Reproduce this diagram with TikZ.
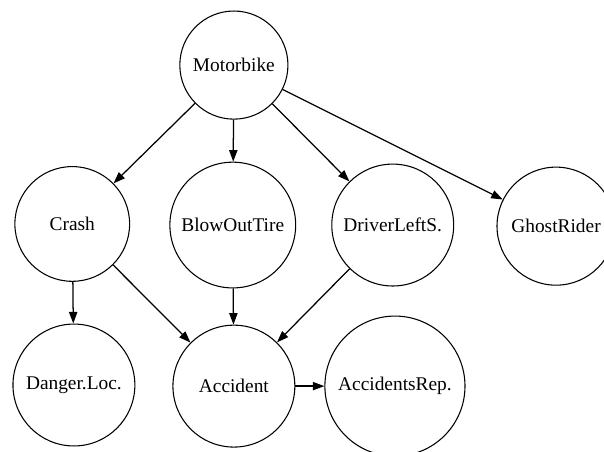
\documentclass[tikz,border=0pt]{standalone}
\usepackage{fontspec}
\setmainfont{Liberation Serif}
\usetikzlibrary{arrows.meta}

\tikzset{
    bnode/.style={draw,circle,line width=0.55pt,inner sep=0pt,font=\fontsize{10}{12}\selectfont},
    dep/.style={-{Triangle[length=0.21cm,width=0.15cm]},line width=0.65pt}
}

\begin{document}
\begin{tikzpicture}[scale=1]

                \clip (0,0) rectangle (10.95,-8.18);

                \node [bnode,minimum size=1.96cm] (moto)  at (4.24,-1.18) {Motorbike};
                \node [bnode,minimum size=2.08cm] (crash) at (1.31,-4.06) {Crash};
                \node [bnode,minimum size=2.28cm] (tire)  at (4.22,-4.08) {BlowOutTire};
                \node [bnode,minimum size=2.21cm] (drv)   at (7.12,-4.08) {DriverLeftS.};
                \node [bnode,minimum size=2.14cm] (ghost) at (10.08,-4.10) {GhostRider};
                \node [bnode,minimum size=2.21cm] (dloc)  at (1.34,-6.98) {Danger.Loc.};
                \node [bnode,minimum size=2.21cm] (acc)   at (4.24,-7.00) {Accident};
                \node [bnode,minimum size=2.54cm] (rep)   at (7.16,-7.00) {AccidentsRep.};

                \draw [dep] (moto)--(crash);
                \draw [dep] (moto)--(tire);
                \draw [dep] (moto)--(drv);
                \draw [dep] (moto)--(ghost);

                \draw [dep] (crash)--(dloc);
                \draw [dep] (crash)--(acc);
                \draw [dep] (tire)--(acc);
                \draw [dep] (drv)--(acc);
                \draw [dep] (acc)--(rep);
            \end{tikzpicture}
\end{document}
